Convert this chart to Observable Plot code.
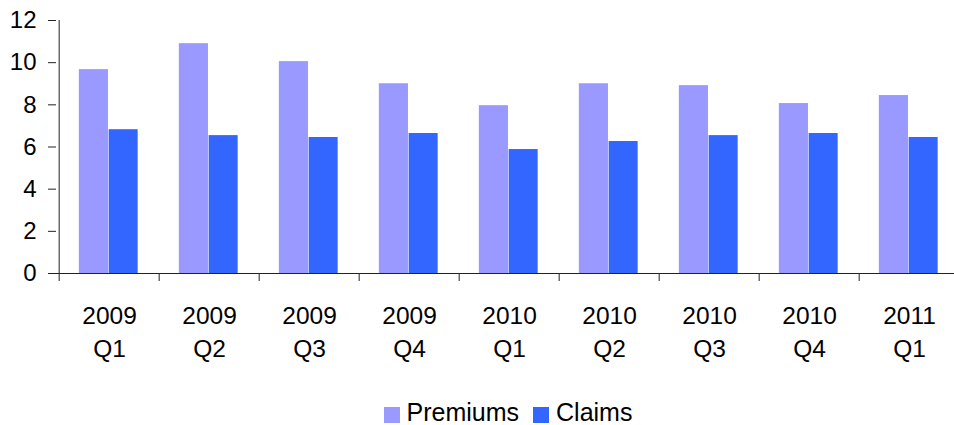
<!DOCTYPE html>
<html>
<head>
<meta charset="utf-8">
<script src="https://cdn.jsdelivr.net/npm/d3@7"></script>
<script src="https://cdn.jsdelivr.net/npm/@observablehq/plot@0.6"></script>
<style>
  body { margin: 0; background: #fff; font-family: "Liberation Sans", Arial, sans-serif; }
  #legend { display: flex; justify-content: center; padding-left: 62px; padding-top: 17px; height: 28px; line-height: 30px; font-size: 25px; color: #000; }
  .item { display: flex; align-items: flex-start; margin: 0 7px; }
  .sw { width: 16px; height: 16px; margin-top: 10px; margin-right: 7px; }
</style>
</head>
<body>
<div id="chart"></div>
<div id="legend"></div>
<script>
const quarters = ["2009 Q1", "2009 Q2", "2009 Q3", "2009 Q4", "2010 Q1", "2010 Q2", "2010 Q3", "2010 Q4", "2011 Q1"];
const premiums = [9.67, 10.9, 10.05, 9.0, 7.96, 9.0, 8.91, 8.06, 8.44];
const claims = [6.82, 6.54, 6.45, 6.64, 5.88, 6.26, 6.54, 6.64, 6.45];
const series = ["Premiums", "Claims"];
const colors = ["#9999FF", "#3366FF"];
const yTicks = [0, 2, 4, 6, 8, 10, 12];

const data = [];
quarters.forEach((q, i) => {
  data.push({quarter: q, series: "Premiums", value: premiums[i]});
  data.push({quarter: q, series: "Claims", value: claims[i]});
});

const x0 = 56, x1 = 962;
const bw = (x1 - x0) / quarters.length;
const split = 0.493 * bw;
const axisColor = "#222";

const chart = Plot.plot({
  width: 954,
  height: 380,
  marginLeft: 56,
  marginRight: 0,
  marginTop: 20,
  marginBottom: 107,
  style: {fontFamily: "'Liberation Sans', Arial, sans-serif", background: "#fff"},
  x: {domain: quarters, range: [x0, x1], padding: 0, label: null},
  y: {domain: [0, 12], label: null},
  color: {domain: series, range: colors},
  marks: [
    Plot.barY(data.filter(d => d.series === "Premiums"), {x: "quarter", y: "value", fill: "series", insetLeft: 0.197 * bw, insetRight: bw - split}),
    Plot.barY(data.filter(d => d.series === "Claims"), {x: "quarter", y: "value", fill: "series", insetLeft: split, insetRight: 0.212 * bw}),
    Plot.axisY({ticks: yTicks, tickSize: 8, tickPadding: 12, fontSize: 24, stroke: axisColor, fill: "#000", tickFormat: d => d, label: null}),
    Plot.axisX({tickSize: 8, tickFormat: () => "", dx: -bw / 2, stroke: axisColor, label: null}),
    Plot.axisX({tickSize: 0, tickPadding: 26, fontSize: 24.5, lineHeight: 1.38, fill: "#000", tickFormat: d => d.replace(" ", "\n"), label: null}),
    Plot.ruleY([0], {stroke: axisColor}),
    Plot.ruleX([quarters[0]], {x: d => d, y1: 0, y2: 12, dx: -bw / 2, stroke: axisColor})
  ]
});

document.getElementById("chart").appendChild(chart);

const legend = document.getElementById("legend");
series.forEach((s, i) => {
  const item = document.createElement("div");
  item.className = "item";
  const sw = document.createElement("div");
  sw.className = "sw";
  sw.style.background = colors[i];
  const label = document.createElement("span");
  label.textContent = s;
  item.appendChild(sw);
  item.appendChild(label);
  legend.appendChild(item);
});
</script>
</body>
</html>
